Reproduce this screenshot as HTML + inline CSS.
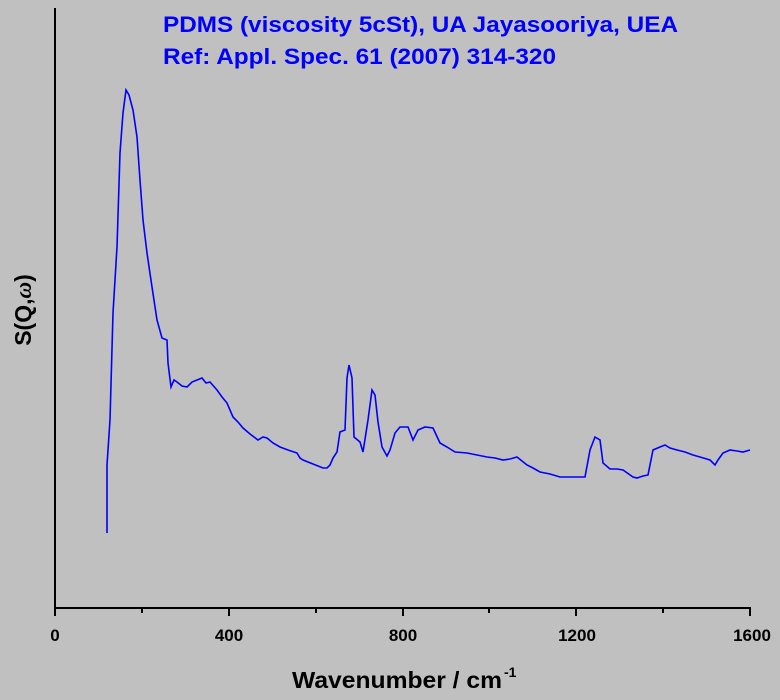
<!DOCTYPE html>
<html><head><meta charset="utf-8"><style>
html,body{margin:0;padding:0;background:#c0c0c0;}
svg{display:block;font-family:"Liberation Sans",Arial,sans-serif;}
</style></head><body>
<svg width="780" height="700" viewBox="0 0 780 700">
<rect width="780" height="700" fill="#c0c0c0"/>
<text x="163" y="32" fill="#0000ff" font-size="22" font-weight="bold" textLength="515" lengthAdjust="spacingAndGlyphs">PDMS (viscosity 5cSt), UA Jayasooriya, UEA</text>
<text x="163" y="64" fill="#0000ff" font-size="22" font-weight="bold" textLength="393" lengthAdjust="spacingAndGlyphs">Ref: Appl. Spec. 61 (2007) 314-320</text>
<line x1="55" y1="8" x2="55" y2="609" stroke="#000" stroke-width="2"/>
<line x1="54" y1="608" x2="751" y2="608" stroke="#000" stroke-width="2"/>
<g stroke="#000" stroke-width="2">
<line x1="55" y1="608" x2="55" y2="616"/><line x1="229" y1="608" x2="229" y2="616"/>
<line x1="403" y1="608" x2="403" y2="616"/><line x1="576" y1="608" x2="576" y2="616"/>
<line x1="750" y1="608" x2="750" y2="616"/>
<line x1="142" y1="608" x2="142" y2="613"/><line x1="316" y1="608" x2="316" y2="613"/>
<line x1="489" y1="608" x2="489" y2="613"/><line x1="663" y1="608" x2="663" y2="613"/>
</g>
<g font-size="17" font-weight="bold" text-anchor="middle" fill="#000">
<text x="55" y="641">0</text><text x="229" y="641">400</text><text x="403" y="641">800</text>
<text x="577" y="641">1200</text><text x="752" y="641">1600</text>
</g>
<text x="292" y="688" font-size="23" font-weight="bold" textLength="210" lengthAdjust="spacingAndGlyphs">Wavenumber / cm</text>
<text x="504" y="677" font-size="14" font-weight="bold">-1</text>
<text transform="translate(31,310) rotate(-90)" font-size="23" font-weight="bold" text-anchor="middle">S(Q,<tspan font-style="italic" font-family="Liberation Serif">ω</tspan>)</text>
<polyline fill="none" stroke="#0000ff" stroke-width="1.6" points="107,533 107,465 110,420 113,313 117,247 120,153 123,113 126,90 129,95 133,110 137,137 140,180 143,220 147,253 152,287 157,320 162,338 167,340 168,363 171,387 174,380 177,382 182,386 187,387 192,382 197,380 202,378 206,383 210,382 217,390 222,397 227,403 233,417 238,422 243,428 250,434 258,440 263,437 267,438 273,443 280,447 288,450 297,453 300,458 303,460 313,464 323,468 327,468 330,465 333,458 337,452 340,432 345,430 347,378 349,365 352,378 354,437 360,442 363,452 368,420 372,390 375,395 378,422 382,447 387,456 390,450 395,433 400,427 408,427 413,440 418,430 425,427 433,428 440,443 447,447 455,452 467,453 477,455 487,457 495,458 503,460 510,459 517,457 522,461 527,465 533,468 540,472 550,474 560,477 573,477 585,477 590,450 595,437 600,440 603,463 610,469 617,469 623,470 633,477 637,478 643,476 648,475 653,450 660,447 665,445 670,448 677,450 685,452 693,455 700,457 710,460 715,465 718,460 723,453 730,450 737,451 743,452 750,450"/>
</svg>
</body></html>
